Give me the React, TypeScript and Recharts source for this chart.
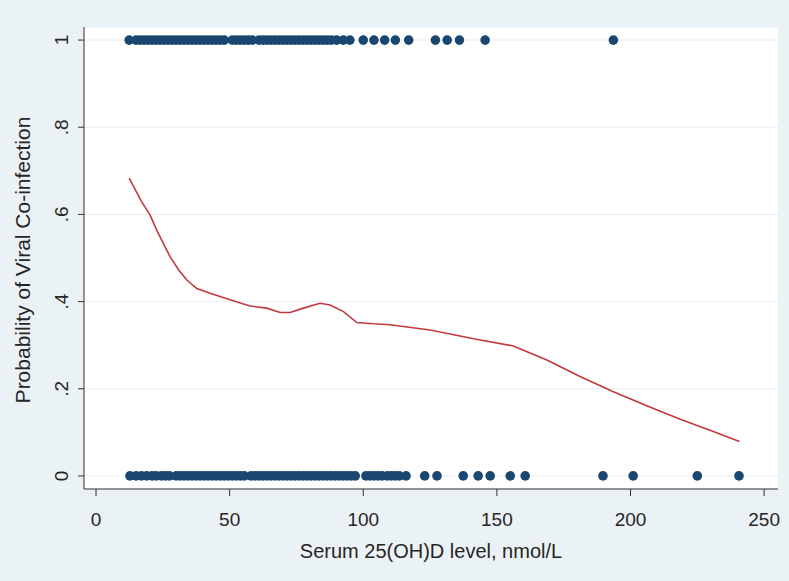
import { ScatterChart, Scatter, XAxis, YAxis, CartesianGrid } from 'recharts'

// serum 25(OH)D values of children with co-infection (y = 1)
const onesX = [
  12.4, 15, 16.5, 18, 19.5, 21, 22.5, 24, 25.5, 27, 28.5, 30, 31.5, 33, 34.5, 36, 37.5, 39,
  40.5, 42, 43.5, 45, 46.5, 48, 51, 52.5, 54, 55.5, 57, 58.5, 61, 62.5, 64, 65.5, 67, 68.5,
  70, 71.5, 73, 74.5, 76, 77.5, 79, 80.5, 82, 83.5, 85, 86.5, 88, 90, 92.5, 95, 100, 104,
  108, 112, 117, 127, 131.4, 136, 145.6, 193.6,
]
// ... and without (y = 0)
const zerosX = [
  12.7, 15, 17, 19, 21, 22.5, 24.5, 26, 27.5, 30, 31.5, 33, 34.5, 36, 37.5, 39, 40.5, 42,
  43.5, 45, 46.5, 48, 49.5, 51, 52.5, 54, 55.5, 58, 59.5, 61, 62.5, 64, 65.5, 67, 68.5, 70,
  71.5, 73, 74.5, 76, 77.5, 79, 80.5, 82, 83.5, 85, 86.5, 88, 89.5, 91, 92.5, 94, 95.5, 97,
  101, 102.5, 104, 105.5, 107, 109, 110.5, 112, 113.5, 116, 123, 127.6, 137.4, 143, 147.5,
  155, 160.6, 189.7, 201, 225, 240.6,
]
// lowess smoother
const curveX = [
  12.4, 17, 20.2, 22.7, 27.7, 31, 33.9, 37.7, 42.7, 50.1, 57.6, 63.9, 68.9, 72.6, 77.6, 83.8,
  87.6, 92.6, 97.6, 103.8, 110, 125, 143.7, 156.2, 168.7, 181.1, 193.6, 206.1, 218.6, 231,
  240.8,
]
const curveY = [
  0.683, 0.63, 0.599, 0.564, 0.503, 0.472, 0.45, 0.43, 0.419, 0.404, 0.39, 0.385, 0.375,
  0.375, 0.385, 0.396, 0.392, 0.377, 0.352, 0.349, 0.347, 0.335, 0.312, 0.298, 0.266, 0.228,
  0.193, 0.161, 0.13, 0.102, 0.079,
]
const xTicks = [0, 50, 100, 150, 200, 250]
const yTicks = [0, 0.2, 0.4, 0.6, 0.8, 1]
const yTickLabels = ['0', '.2', '.4', '.6', '.8', '1']

const ones = onesX.map((x) => ({ x, y: 1 }))
const zeros = zerosX.map((x) => ({ x, y: 0 }))
const curve = curveX.map((x, i) => ({ x, y: curveY[i] }))

const navy = '#1a476f'
const red = '#c4383e'
const ink = '#262626'
const font = '"Liberation Sans", Arial, sans-serif'

function Dot(props: any) {
  const { cx, cy } = props
  return <circle cx={cx} cy={cy} r={4.8} fill={navy} />
}

function YTick(props: any) {
  const { x, y, payload } = props
  const label = yTickLabels[yTicks.indexOf(payload.value)]
  return (
    <text x={x} y={y} transform={`rotate(-90 ${x} ${y})`} textAnchor="middle"
      dominantBaseline="central" fill={ink} fontSize={19} fontFamily={font}>
      {label}
    </text>
  )
}

function XTick(props: any) {
  const { x, y, payload } = props
  return (
    <text x={x} y={y} textAnchor="middle" dominantBaseline="central" fill={ink}
      fontSize={19} fontFamily={font}>
      {payload.value}
    </text>
  )
}

export default function App() {
  return (
    <div style={{ position: 'absolute', left: 0, top: 0, width: 789, height: 581, background: '#ebf2f5' }}>
      <ScatterChart width={789} height={581} margin={{ top: 27, right: 11, left: 0, bottom: 22 }}>
        <CartesianGrid vertical={false} fill="#ffffff" stroke="#e6eef2" />
        <XAxis
          type="number"
          dataKey="x"
          domain={[-4.5, 255.2]}
          ticks={xTicks}
          height={70}
          tickSize={7}
          tickMargin={23}
          tick={<XTick />}
          axisLine={{ stroke: '#333' }}
          tickLine={{ stroke: '#333' }}
          label={{
            content: (p: any) => (
              <text x={p.viewBox.x + p.viewBox.width / 2} y={p.viewBox.y + 62} textAnchor="middle"
                dominantBaseline="central" fill={ink} fontSize={20} fontFamily={font}>
                Serum 25(OH)D level, nmol/L
              </text>
            ),
          }}
        />
        <YAxis
          type="number"
          dataKey="y"
          domain={[-0.03, 1.03]}
          ticks={yTicks}
          width={84}
          tickSize={6}
          tickMargin={16}
          tick={<YTick />}
          axisLine={{ stroke: '#333' }}
          tickLine={{ stroke: '#333' }}
          label={{
            content: (p: any) => {
              const cx = p.viewBox.x + 22
              const cy = p.viewBox.y + p.viewBox.height / 2 + 2
              return (
                <text x={cx} y={cy} transform={`rotate(-90 ${cx} ${cy})`} textAnchor="middle"
                  dominantBaseline="central" fill={ink} fontSize={21} fontFamily={font}>
                  Probability of Viral Co-infection
                </text>
              )
            },
          }}
        />
        <Scatter data={ones} shape={<Dot />} isAnimationActive={false} />
        <Scatter data={zeros} shape={<Dot />} isAnimationActive={false} />
        <Scatter
          data={curve}
          line={{ stroke: red, strokeWidth: 1.6 }}
          lineType="joint"
          shape={() => <g />}
          isAnimationActive={false}
        />
      </ScatterChart>
    </div>
  )
}
